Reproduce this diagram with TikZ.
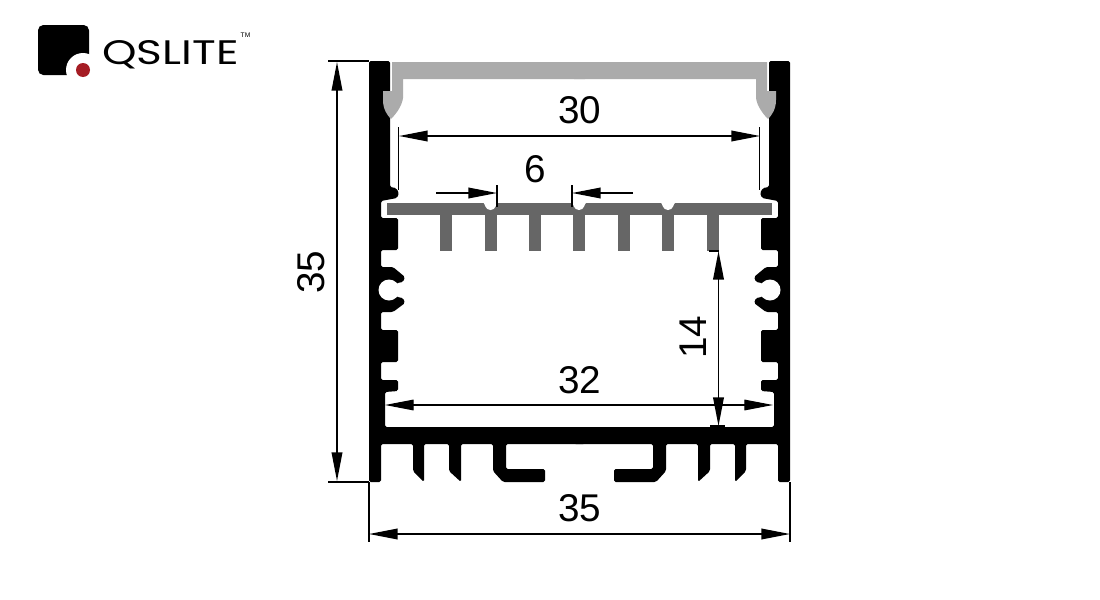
\documentclass[tikz,border=0pt]{standalone}
\usepackage{fontspec}
\setmainfont{Liberation Sans}
\newfontfamily\logofont{Poppins}
\usetikzlibrary{arrows.meta}
\tikzset{
  dimline/.style={line width=1.1pt, {Triangle[length=21.5pt,width=8pt]}-{Triangle[length=21.5pt,width=8pt]}},
  finline/.style={line width=1.1pt, -{Triangle[length=21.5pt,width=8pt]}},
  extline/.style={line width=.9pt},
  dimlabel/.style={inner sep=0pt, font=\fontsize{29}{31}\selectfont},
}
\definecolor{lensgray}{HTML}{ABABAB}
\definecolor{plategray}{HTML}{666666}
\definecolor{logored}{HTML}{A51C24}
% left half of the housing, carried past the middle
\newcommand{\housinghalf}{
  \fill[black, rounded corners=1.2pt]
    (369,61) -- (390,61) -- (390,187) -- (396,188) -- (399,193) -- (397,198) -- (381,201)
    -- (381,218) -- (398,218) -- (398,250) -- (381,250)
    -- (381,267) -- (393,267) -- (405,277) -- (403,282) -- (397,283) -- (389,290) -- (397,297)
    -- (403,298) -- (405,303) -- (393,312) -- (381,312) -- (381,330) -- (398,330) -- (398,362)
    -- (381,362) -- (381,380) -- (398,380) -- (398,391) -- (385,392) -- (385,427) -- (585,427)
    -- (585,444) -- (506,444) -- (506,469) -- (545,469) -- (545,482) -- (503,482) -- (493,471)
    -- (493,444) -- (461,444) -- (461,482) -- (449,471) -- (449,444) -- (424,444) -- (424,482)
    -- (413,471) -- (413,444) -- (381,444) -- (381,482) -- (369,482) -- cycle;
  \fill[white] (389,290) circle[radius=10.5];
  % lens
  \fill[lensgray]
    (392,62) -- (585,62) -- (585,79) -- (403,79) -- (403,98)
    .. controls (402,106) and (396,114) .. (391,119)
    .. controls (388,116) and (383,110) .. (383,100) -- (383,91) -- (392,91) -- cycle;
}
\begin{document}
\begin{tikzpicture}[x=.75pt, y=-.75pt]
  \useasboundingbox (0,0) rectangle (1100,600);
  % logo
  \fill[black, rounded corners=4pt] (38,25) rectangle (89,75);
  \fill[white] (83,70) circle[radius=17];
  \fill[white] (83,70) rectangle (100,87);
  \fill[logored] (83,70) circle[radius=7];
  \node[inner sep=0pt, xscale=1.29] (logoname) at (170.5,55) {\logofont\fontsize{25.5}{28}\selectfont QSLITE};
  \node[inner sep=0pt] (logotm) at (245.5,35) {\fontsize{5}{6}\selectfont TM};
  % led plate
  \fill[plategray] (387,203) rectangle (772,215);
  \foreach \f in {446,490.5,534.5,579,624,668,713} {
    \fill[plategray] (\f-6,215) rectangle (\f+6,251);
  }
  \foreach \f in {490.5,579,668} {
    \fill[white] (\f-8,202) .. controls (\f-5,203) and (\f-6,210) .. (\f,210)
      .. controls (\f+6,210) and (\f+5,203) .. (\f+8,202) -- cycle;
  }
  % housing
  \housinghalf
  \begin{scope}[xshift=869.25pt, xscale=-1]
    \housinghalf
  \end{scope}
  % dimension points
  \coordinate (widthl) at (369,534);
  \coordinate (widthr) at (790,534);
  \coordinate (widthlo) at (369,482);
  \coordinate (widthlu) at (369,542);
  \coordinate (widthro) at (790,482);
  \coordinate (widthru) at (790,542);
  \coordinate (heightt) at (337,62);
  \coordinate (heightb) at (337,481);
  \coordinate (heighttl) at (328,61);
  \coordinate (heighttr) at (369,61);
  \coordinate (heightbl) at (328,482);
  \coordinate (heightbr) at (369,482);
  \coordinate (lensl) at (399,136);
  \coordinate (lensr) at (760,136);
  \coordinate (lenslt) at (398.5,127);
  \coordinate (lenslb) at (398.5,190);
  \coordinate (lensrt) at (759.5,127);
  \coordinate (lensrb) at (759.5,190);
  \coordinate (finl) at (436,193);
  \coordinate (finlt) at (497,193);
  \coordinate (finr) at (633,193);
  \coordinate (finrt) at (572,193);
  \coordinate (finlo) at (497,185);
  \coordinate (finlu) at (497,207);
  \coordinate (finro) at (572,185);
  \coordinate (finru) at (572,207);
  \coordinate (innerl) at (385,405);
  \coordinate (innerr) at (773,405);
  \coordinate (gapt) at (718.5,251);
  \coordinate (gapb) at (718.5,426);
  \coordinate (gaptl) at (709,251);
  \coordinate (gaptr) at (719,251);
  \coordinate (gapbl) at (710,426);
  \coordinate (gapbr) at (725,426);
  % extension lines
  \foreach \a/\b in {widthlo/widthlu,widthro/widthru,heighttl/heighttr,heightbl/heightbr,
      lenslt/lenslb,lensrt/lensrb,finlo/finlu,finro/finru,gaptl/gaptr,gapbl/gapbr} {
    \draw[extline] (\a) -- (\b);
  }
  % dimensions
  \draw[dimline] (widthl) -- (widthr);
  \draw[dimline] (heightt) -- (heightb);
  \draw[dimline] (lensl) -- (lensr);
  \draw[dimline, line width=.8pt] (innerl) -- (innerr);
  \draw[dimline] (gapt) -- (gapb);
  \draw[finline] (finl) -- (finlt);
  \draw[finline] (finr) -- (finrt);
  % labels
  \node[dimlabel] (widthlabel) at (580,508) {35};
  \node[dimlabel, rotate=90] (heightlabel) at (311,272) {35};
  \node[dimlabel] (lenslabel) at (580,110) {30};
  \node[dimlabel] (finlabel) at (535,169) {6};
  \node[dimlabel] (innerlabel) at (580,380) {32};
  \node[dimlabel, rotate=90] (gaplabel) at (693,337) {14};
\end{tikzpicture}
\end{document}
